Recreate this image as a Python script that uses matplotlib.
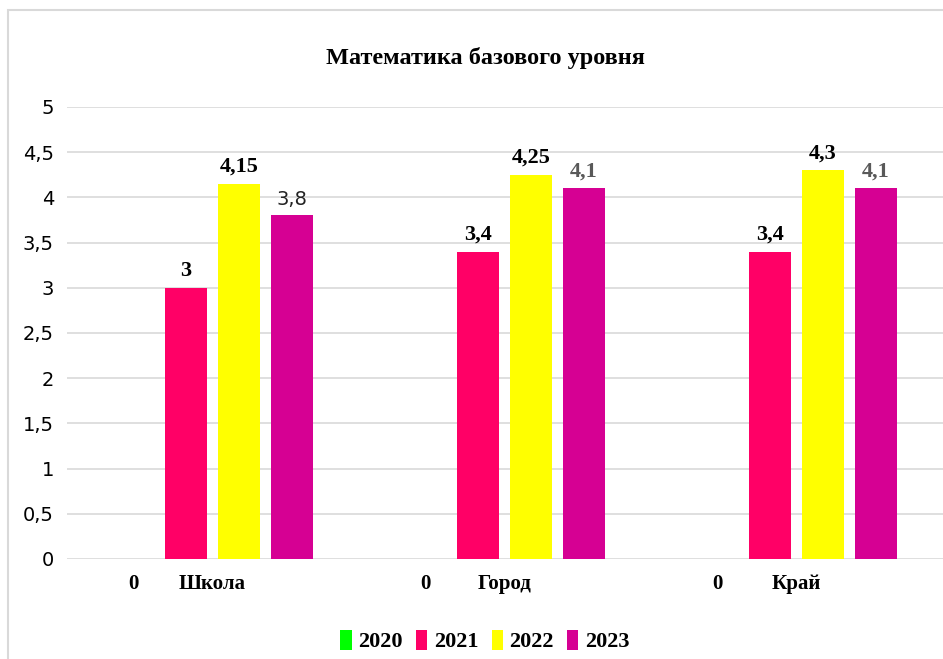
import numpy as np
import matplotlib.pyplot as plt
from matplotlib.patches import Rectangle

# Datos
categorias = ['Школа', 'Город', 'Край']
anios = ['2020', '2021', '2022', '2023']
v2020 = [0, 0, 0]
v2021 = [3, 3.4, 3.4]
v2022 = [4.15, 4.25, 4.3]
v2023 = [3.8, 4.1, 4.1]
series = [v2020, v2021, v2022, v2023]
colores = ['#00FF00', '#FF0066', '#FFFF00', '#D60093']

serif = 'Liberation Serif'
sans = 'DejaVu Sans'

fig = plt.figure(figsize=(9.43, 6.59), dpi=100)
# marco exterior del gráfico
fig.patches.append(Rectangle((8 / 943, -0.05), 1.0, 1 - 10 / 659 + 0.05,
                             transform=fig.transFigure, fill=False,
                             edgecolor='#d9d9d9', linewidth=1.5))

ax = fig.add_axes([66.5 / 943, 1 - 559 / 659, 876 / 943, 452 / 659])
x = np.arange(len(categorias))
ancho = 0.144
paso = 0.1815

for i, (vals, col) in enumerate(zip(series, colores)):
    pos = x + (i - 1.5) * paso
    ax.bar(pos, vals, width=ancho, color=col, label=anios[i], zorder=3)
    for j, (px, v) in enumerate(zip(pos, vals)):
        txt = ('%g' % v).replace('.', ',')
        if v == 0:
            ax.annotate(txt, (px, 0), xytext=(0, -18), textcoords='offset points',
                        ha='center', va='center', fontsize=15, fontweight='bold',
                        family=serif, annotation_clip=False)
        elif i == 3 and j == 0:
            ax.annotate(txt, (px, v), xytext=(0, 5), textcoords='offset points',
                        ha='center', va='bottom', fontsize=14, family=sans,
                        color='#222222')
        elif i == 3:
            ax.annotate(txt, (px, v), xytext=(0, 5), textcoords='offset points',
                        ha='center', va='bottom', fontsize=16, fontweight='bold',
                        family=serif, color='#595959')
        else:
            ax.annotate(txt, (px, v), xytext=(0, 5), textcoords='offset points',
                        ha='center', va='bottom', fontsize=16, fontweight='bold',
                        family=serif)

ax.set_xlim(-0.5, 2.5)
ax.set_ylim(0, 5)
ax.set_yticks(np.arange(0, 5.01, 0.5))
ax.set_yticklabels([('%g' % t).replace('.', ',') for t in np.arange(0, 5.01, 0.5)],
                   fontsize=14, family=sans)
ax.set_xticks(x)
ax.set_xticklabels(categorias, fontsize=15, fontweight='bold', family=serif)
ax.tick_params(axis='both', length=0)
ax.tick_params(axis='y', pad=9)
ax.tick_params(axis='x', pad=11)
ax.grid(axis='y', color='#d9d9d9', linewidth=1.2, zorder=0)
for s in ax.spines.values():
    s.set_visible(False)

fig.text(485 / 943, 1 - 58 / 659, 'Математика базового уровня', ha='center', va='center',
         fontsize=17.5, fontweight='bold', family=serif)

fig.legend(loc='center', bbox_to_anchor=(485 / 943, 1 - 641 / 659), ncol=4,
           frameon=False, handlelength=0.5, handleheight=1.0, handletextpad=0.3,
           columnspacing=0.6, prop={'family': serif, 'weight': 'bold', 'size': 16})

fig.savefig('out.png', dpi=100)
